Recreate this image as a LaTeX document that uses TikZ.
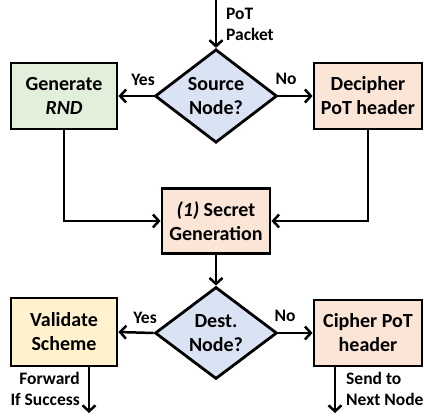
\documentclass[tikz,border=0pt]{standalone}
\usepackage{fontspec}
\setmainfont{Carlito}
\usetikzlibrary{arrows.meta,shapes.geometric}

\definecolor{genfill}{HTML}{E2EFDA}
\definecolor{potfill}{HTML}{FBE5D6}
\definecolor{askfill}{HTML}{DAE3F3}
\definecolor{valfill}{HTML}{FFF2CC}

\tikzset{
  box/.style={draw,line width=2.8pt,minimum width=106pt,minimum height=66pt,
    align=center,inner sep=2pt,font=\fontsize{20}{24}\selectfont\bfseries},
  ask/.style={draw,diamond,line width=2.8pt,fill=askfill,minimum width=122pt,
    minimum height=92pt,inner sep=0pt,align=center,
    font=\fontsize{20}{24}\selectfont\bfseries},
  flow/.style={line width=2.5pt,-{Straight Barb[length=6pt,width=13pt,line width=2.5pt]}},
  tag/.style={font=\fontsize{17.5}{21}\selectfont\bfseries,inner sep=0pt}
}

\begin{document}
\begin{tikzpicture}[x=1pt,y=-1pt]
  \useasboundingbox (0,0) rectangle (424,416);
  % decisions down the middle
  \node[ask] (src) at (216,96) {Source\\Node?};
  \node[ask] (dst) at (216,333) {Dest.\\Node?};
  % boxes
  \node[box,fill=genfill] (gen) at (64,96) {Generate\\\textit{RND}};
  \node[box,fill=potfill,minimum width=108pt] (dec) at (368,96) {Decipher\\PoT header};
  \node[box,fill=potfill,minimum width=108pt,minimum height=65pt] (sec) at (216,221) {\textit{(1)} Secret\\Generation};
  \node[box,fill=valfill,minimum height=68pt] (val) at (64,332) {Validate\\Scheme};
  \node[box,fill=potfill,minimum width=108pt] (cip) at (368,333) {Cipher PoT\\header};
  % free ends
  \coordinate (in) at (216,0);
  \coordinate (valout) at (89,413);
  \coordinate (cipout) at (335,413);
  % connectors
  \draw[flow] (in) -- (src.north);
  \node[tag,anchor=west,align=left] (pkt) at (226,24) {PoT\\Packet};
  \draw[flow] (src.west) -- (gen.east);
  \node[tag] (yes1) at (143,80) {Yes};
  \draw[flow] (src.east) -- (dec.west);
  \node[tag] (no1) at (286,79) {No};
  \draw[flow] (gen.south) |- (sec.west);
  \draw[flow] (dec.south) |- (sec.east);
  \draw[flow] (sec.south) -- (dst.north);
  \draw[flow] (dst.west) -- (val.east);
  \node[tag] (yes2) at (145,318) {Yes};
  \draw[flow] (dst.east) -- (cip.west);
  \node[tag] (no2) at (285,316) {No};
  \draw[flow] (valout |- val.south) -- (valout);
  \node[tag,anchor=east,align=right] (fwd) at (80,389) {Forward\\If Success};
  \draw[flow] (cipout |- cip.south) -- (cipout);
  \node[tag,anchor=west,align=left] (send) at (346,389) {Send to\\Next Node};
\end{tikzpicture}
\end{document}
